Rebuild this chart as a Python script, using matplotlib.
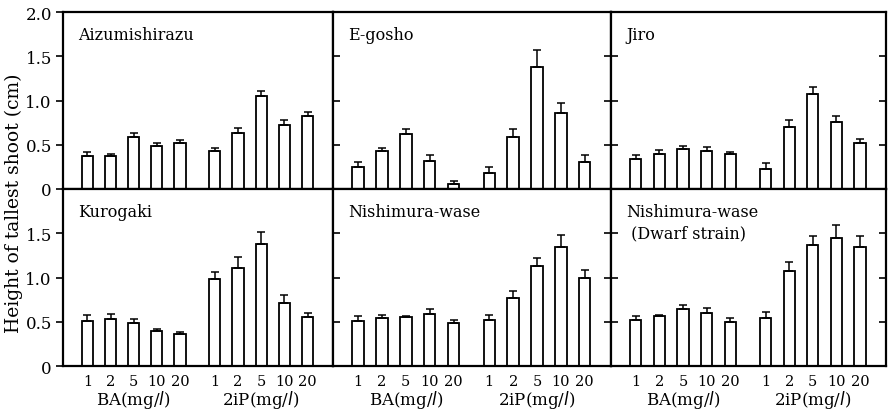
import matplotlib
matplotlib.use("Agg")
import matplotlib.pyplot as plt
import numpy as np

plt.rcParams['font.family'] = ['DejaVu Serif']

doses = ["1", "2", "5", "10", "20"]
group_labels = ["BA(mg/$l$)", "2iP(mg/$l$)"]
cultivars = ["Aizumishirazu", "E-gosho", "Jiro",
             "Kurogaki", "Nishimura-wase", "Nishimura-wase\n (Dwarf strain)"]

# means: BA 1,2,5,10,20 then 2iP 1,2,5,10,20
aizu_mean = [0.37, 0.37, 0.59, 0.49, 0.52, 0.43, 0.63, 1.05, 0.72, 0.82]
aizu_err = [0.05, 0.02, 0.04, 0.03, 0.03, 0.03, 0.06, 0.06, 0.06, 0.05]
egosho_mean = [0.25, 0.43, 0.62, 0.32, 0.06, 0.18, 0.59, 1.38, 0.86, 0.31]
egosho_err = [0.05, 0.03, 0.06, 0.06, 0.03, 0.07, 0.09, 0.19, 0.11, 0.07]
jiro_mean = [0.34, 0.40, 0.45, 0.43, 0.40, 0.23, 0.70, 1.07, 0.76, 0.52]
jiro_err = [0.04, 0.04, 0.04, 0.04, 0.02, 0.06, 0.08, 0.08, 0.07, 0.04]
kuro_mean = [0.51, 0.53, 0.49, 0.39, 0.36, 0.98, 1.11, 1.38, 0.71, 0.55]
kuro_err = [0.07, 0.06, 0.04, 0.03, 0.02, 0.08, 0.12, 0.13, 0.09, 0.05]
nishi_mean = [0.51, 0.54, 0.55, 0.59, 0.49, 0.52, 0.77, 1.13, 1.34, 1.00]
nishi_err = [0.05, 0.04, 0.02, 0.05, 0.03, 0.06, 0.08, 0.09, 0.14, 0.09]
dwarf_mean = [0.52, 0.56, 0.64, 0.60, 0.50, 0.54, 1.07, 1.37, 1.45, 1.34]
dwarf_err = [0.04, 0.02, 0.05, 0.05, 0.04, 0.07, 0.11, 0.10, 0.14, 0.13]

means = [aizu_mean, egosho_mean, jiro_mean, kuro_mean, nishi_mean, dwarf_mean]
errs = [aizu_err, egosho_err, jiro_err, kuro_err, nishi_err, dwarf_err]

W, H = 889, 414
fig = plt.figure(figsize=(W / 100, H / 100), dpi=100)

xcols = [63, 333, 611, 886]
yrows = [13, 190, 367]
xpos = np.array([0, 1, 2, 3, 4, 5.5, 6.5, 7.5, 8.5, 9.5])

for i in range(6):
    r, c = divmod(i, 3)
    left = xcols[c] / W
    width = (xcols[c + 1] - xcols[c]) / W
    bottom = 1 - yrows[r + 1] / H
    height = (yrows[r + 1] - yrows[r]) / H
    ax = fig.add_axes([left, bottom, width, height])
    m = np.array(means[i])
    e = np.array(errs[i])
    ax.bar(xpos, m, width=0.48, facecolor='white', edgecolor='black',
           linewidth=1.3, zorder=2)
    ax.errorbar(xpos, m, yerr=[np.zeros_like(e), e], fmt='none',
                ecolor='black', elinewidth=1.1, capsize=3, capthick=1.1,
                zorder=3)
    ax.set_xlim(-1.05, 10.6)
    ax.set_ylim(0, 2.0)
    for s in ax.spines.values():
        s.set_linewidth(1.6)
    if r == 0:
        ax.set_yticks([0, 0.5, 1.0, 1.5, 2.0])
        ax.set_yticklabels(["0", "0.5", "1.0", "1.5", "2.0"])
        ax.set_xticks([])
    else:
        ax.set_yticks([0, 0.5, 1.0, 1.5])
        ax.set_yticklabels(["0", "0.5", "1.0", "1.5"])
        ax.set_xticks(xpos)
        ax.set_xticklabels(doses + doses, fontsize=10.5)
        ax.tick_params(axis='x', length=0, pad=6)
        ax.text(2, -0.375, group_labels[0], ha='center', va='center',
                fontsize=12, transform=ax.transData, clip_on=False)
        ax.text(7.5, -0.375, group_labels[1], ha='center', va='center',
                fontsize=12, transform=ax.transData, clip_on=False)
    ax.tick_params(axis='y', left=True, right=True, direction='in',
                   length=5, width=1.2, labelsize=12)
    if c == 0:
        ax.tick_params(axis='y', direction='out', labelleft=True, pad=3)
    else:
        ax.tick_params(axis='y', labelleft=False)
    ax.text(15 / (xcols[c + 1] - xcols[c]), 1 - 14 / 177, cultivars[i],
            transform=ax.transAxes, ha='left', va='top', fontsize=11.5,
            linespacing=1.3)

fig.text(14 / W, 1 - 203 / H, "Height of tallest shoot (cm)", rotation=90,
         ha='center', va='center', fontsize=13.5)

fig.savefig("out.png", dpi=100)
